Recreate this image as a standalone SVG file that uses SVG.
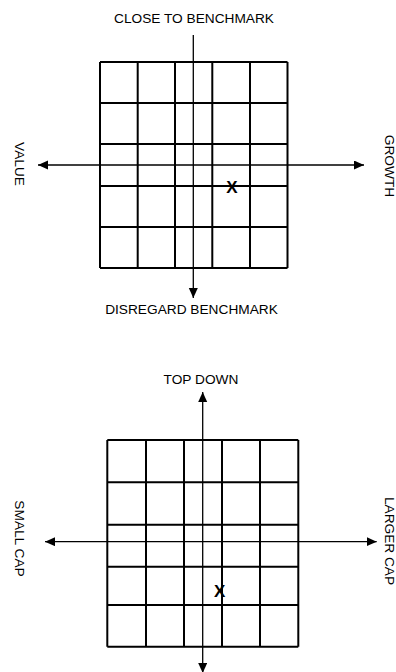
<svg xmlns="http://www.w3.org/2000/svg" width="396" height="672" viewBox="0 0 396 672">
<style>
.grid{fill:none;stroke:#000;stroke-width:2}
.axis{fill:none;stroke:#000;stroke-width:1.3}
.lbl{font-family:"Liberation Sans",Arial,sans-serif;font-size:13.7px;fill:#000;text-anchor:middle}
.mark{font-family:"Liberation Sans",Arial,sans-serif;font-size:17px;font-weight:bold;fill:#000;text-anchor:middle}
</style>
<defs>
<marker id="ah" markerUnits="userSpaceOnUse" markerWidth="10" markerHeight="10" refX="10" refY="4.5" orient="auto-start-reverse">
<path d="M0,0 L10,4.5 L0,9 z" fill="#000"/>
</marker>
</defs>
<rect width="396" height="672" fill="#fff"/>
<g id="grid1">
<path class="grid" d="M100,62 H287.5 M100,103 H287.5 M100,144 H287.5 M100,186 H287.5 M100,227 H287.5 M100,268 H287.5 M100,62 V268 M137.7,62 V268 M175,62 V268 M212.3,62 V268 M250,62 V268 M287.5,62 V268"/>
</g>
<g id="grid2">
<path class="grid" d="M107.3,440 H298.3 M107.3,482.3 H298.3 M107.3,524.7 H298.3 M107.3,566.7 H298.3 M107.3,605 H298.3 M107.3,646.7 H298.3 M107.3,440 V646.7 M146,440 V646.7 M184,440 V646.7 M222,440 V646.7 M260,440 V646.7 M298.3,440 V646.7"/>
</g>
<g id="connectors">
<line class="axis" x1="193.3" y1="35" x2="193.3" y2="298" marker-end="url(#ah)"/>
<line class="axis" x1="38" y1="165" x2="364" y2="165" marker-start="url(#ah)" marker-end="url(#ah)"/>
<line class="axis" x1="202.7" y1="392" x2="202.7" y2="673" marker-start="url(#ah)" marker-end="url(#ah)"/>
<line class="axis" x1="45" y1="541.7" x2="376.7" y2="541.7" marker-start="url(#ah)" marker-end="url(#ah)"/>
</g>
<g id="labels1">
<text class="lbl" x="194" y="23.3">CLOSE TO BENCHMARK</text>
<text class="lbl" x="191.5" y="314">DISREGARD BENCHMARK</text>
<text class="lbl" transform="translate(15,164) rotate(90)">VALUE</text>
<text class="lbl" transform="translate(385.2,166) rotate(90)">GROWTH</text>
<text class="mark" x="232" y="192.7">X</text>
</g>
<g id="labels2">
<text class="lbl" x="201" y="384">TOP DOWN</text>
<text class="lbl" transform="translate(15,538.5) rotate(90)">SMALL CAP</text>
<text class="lbl" transform="translate(385.2,541) rotate(90)">LARGER CAP</text>
<text class="mark" x="219.7" y="596.5">X</text>
</g>
</svg>
